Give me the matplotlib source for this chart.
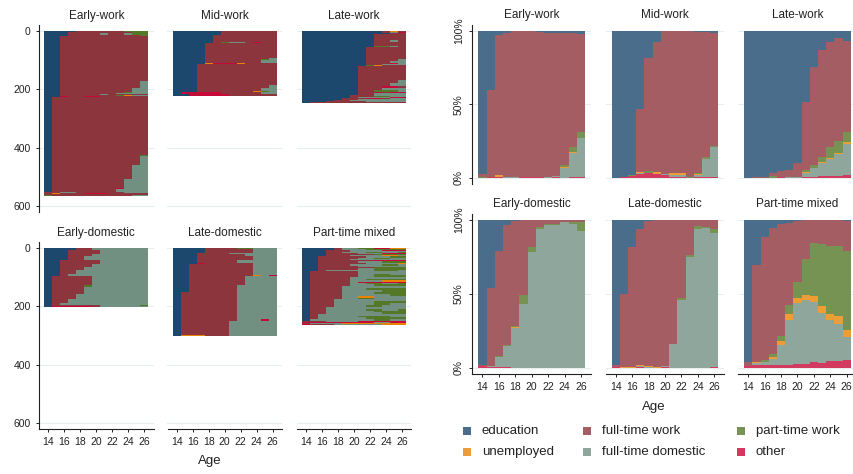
"""
Sequence index plots (left) and state distribution plots (right)
for six life-course clusters, ages 14-26.
"""

import numpy as np
import matplotlib
matplotlib.use("Agg")
import matplotlib.pyplot as plt
from matplotlib.colors import ListedColormap, BoundaryNorm, to_rgb
from matplotlib.patches import Rectangle

plt.rcParams["font.family"] = ["Liberation Sans", "DejaVu Sans"]

W_PX, H_PX = 854, 474

AGES = list(range(14, 27))
AGE_TICKS = [14, 16, 18, 20, 22, 24, 26]
STATES = ["education", "full-time work", "part-time work",
          "unemployed", "full-time domestic", "other"]
CODES = "EWPUDO"
COLORS = ["#1d486e", "#8c353c", "#557828", "#e88304", "#729082", "#c70938"]
CLUSTERS = ["Early-work", "Mid-work", "Late-work",
            "Early-domestic", "Late-domestic", "Part-time mixed"]

# --- sequence blocks (count, states at ages 14..26), top row first ---------
EARLY_WORK_SEQ = [
    (3, "EEEEWWWWWWPPP"), (5, "EEEWWWWWWWWPP"), (4, "EEEWWWWDWWDPP"),
    (4, "EEEWWWWWWWWWP"),
    (155, "EEWWWWWWWWWWW"), (23, "EEWWWWWWWWWWD"), (15, "EEWWWWWWWWWDD"),
    (3, "EEWWWWWWWWPDD"), (5, "EEWWWWWWWDDDD"), (2, "EEWWWWWDWWWWW"),
    (3, "EEWWWWWWWPUDD"), (4, "EEOWWOOWWWWWW"),
    (200, "EWWWWWWWWWWWW"), (2, "EWWWWWWWWWWWP"), (30, "EWWWWWWWWWWWD"),
    (3, "EWWWWWWWWWWPD"), (46, "EWWWWWWWWWWDD"), (2, "EWWWWWWWWWWOD"),
    (30, "EWWWWWWWWWDDD"), (4, "EWWWWWWWWODDD"), (8, "EWWWWWWWWDDDD"),
    (2, "EWWWWWWWPWWDD"),
    (4, "WWDDWWWWWWDDD"), (3, "WUWWWOOOWWWWW"), (3, "WWWWWWWWWWWWW"),
    (2, "PWWWWWWWWWWDD"),
]
MID_WORK_SEQ = [
    (14, "EEEEEEWWWWWWW"), (1, "EEEEEWWDWWWWW"), (24, "EEEEEWWWWWWWW"),
    (2, "EEEEEWPDDWOWW"),
    (50, "EEEEWWWWWWWWW"), (5, "EEEEWWWWWWWWD"), (3, "EEEEWWWWWWWPD"),
    (10, "EEEEWWWWWWWDD"), (3, "EEEEUOOOUWWWW"), (2, "EEEEWOOOOWWWW"),
    (72, "EEEWWWWWWWWWW"), (10, "EEEWWWWWWWWWD"), (8, "EEEWWWWWWWWDD"),
    (3, "EEEWWWWWUUWDD"), (3, "EEEWWWWWWWUPD"), (6, "EOOOOOWWWWWDD"),
    (6, "EEOOOOOWWWWWW"),
]
LATE_WORK_SEQ = [
    (3, "EEEEEEEEEEWUW"), (3, "EEEEEEEEEEWDO"), (4, "EEEEEEEEEEEWW"),
    (20, "EEEEEEEEEWWWW"), (2, "EEEEEEEEEUWWW"), (5, "EEEEEEEEEWWDW"),
    (15, "EEEEEEEEEWWWW"), (3, "EEEEEEEEEPPDW"),
    (40, "EEEEEEEEWWWWW"), (8, "EEEEEEEEWWWWD"), (6, "EEEEEEEEWWWDD"),
    (4, "EEEEEEEEWWWOD"), (4, "EEEEEEEEWWDDD"), (3, "EEEEEEEEPUWWW"),
    (49, "EEEEEEEWWWWWW"), (10, "EEEEEEEWWWWWD"), (10, "EEEEEEEWWWWDD"),
    (6, "EEEEEEEWWWOOW"), (8, "EEEEEEEWWWDDD"), (6, "EEEEEEEWWPPPD"),
    (4, "EEEEEEEWWOWOO"), (6, "EEEEEEEWWDDDD"),
    (4, "EEEEEEWWWDDDD"), (3, "EEEEEEWWWPPDD"), (3, "EEEEEEWDDDDOO"),
    (3, "EEEEEWWWOOWDD"), (3, "EEEEEWWDDDDDD"), (3, "EEEEWWWWPDDPP"),
    (3, "EEEEWWDDDDDDD"), (2, "EEEWWWWWDDDDD"), (2, "EEEWWOWWWWWDD"),
    (3, "EWWWWWWWWWWWW"),
]
EARLY_DOM_SEQ = [
    (6, "EEEEWWDDDDDDD"), (2, "EEEEWWWDDDDDD"), (12, "EEEWWWWDDDDDD"),
    (9, "EEEWWWDDDDDDD"), (11, "EEEWWDDDDDDDD"),
    (14, "EEWWWWWDDDDDD"), (11, "EEWWWWDDDDDDD"), (11, "EEWWWDDDDDDDD"),
    (14, "EEWWDDDDDDDDD"), (5, "EEWDDDDDDDDDD"),
    (32, "EWWWWWDDDDDDD"), (8, "EWWWWPDDDDDDD"), (23, "EWWWWDDDDDDDD"),
    (17, "EWWWDDDDDDDDD"), (15, "EWWDDDDDDDDDD"), (6, "EWDDDDDDDDDDD"),
    (3, "EWWWWWWDDDDDP"), (2, "EOOOOOWDDDDDD"), (2, "OOOOWWDDDDDDD"),
]
LATE_DOM_SEQ = [
    (3, "EEEEWWWWPPDDD"), (2, "EEEEUWWWWWDDD"), (11, "EEEEWWWWWWDDD"),
    (3, "EEEWWWWDDDDDD"), (10, "EEEWWWWWWDDDD"), (12, "EEEWWWWWWWDDD"),
    (12, "EEEWWWWWDDDDD"), (3, "EEEOWWWWWWDDD"),
    (38, "EEWWWWWWWWDDD"), (2, "EEWWWWWWWWUDO"), (30, "EEWWWWWWWDDDD"),
    (24, "EEWWWWWWDDDDD"),
    (2, "EWWDDUOWDDDDD"), (93, "EWWWWWWWDDDDD"), (4, "EWWWWWWWDDDOD"),
    (48, "EWWWWWWDDDDDD"), (3, "EUUUWWWDDDDDD"), (2, "EWWWDPWDDDDDD"),
]
PT_MIXED_SEQ = [
    (2, "EEEEWDDPPOOUU"), (2, "EEEEWWDDUPPOO"), (3, "EEEEWDDDPPPPP"),
    (3, "EEEWWWDDDDOOO"), (3, "EEEWWWDDDDDDD"), (3, "EEEWWDDDPPDDP"),
    (4, "EEEWWWWDDDOOO"), (3, "EEEWWWWWWPPPP"), (3, "EEEWWWDDDDUUD"),
    (2, "EEEWPDDDDDDDD"),
    (6, "EEWWWWWWDDDPP"), (4, "EEWWWWWDDPPDD"), (4, "EEWWWWDDDDDDD"),
    (4, "EEWWWWWWWOOOO"), (5, "EEWWWWWDDDPPP"), (5, "EEWWWWWWDDDDU"),
    (5, "EEWWWWDDDDPPD"), (4, "EEWWWWWDDDDDD"), (5, "EEWWWWWWWPPPP"),
    (5, "EEWWWWWDDPPPP"), (5, "EEWDDDDDDPPPD"),
    (8, "EWWWWWWDDDDDD"), (6, "EWWWWWWDDPPDD"), (6, "EWWWWWWDDPPPP"),
    (5, "EWWWWWDDDDDDD"), (5, "EWWWWWDDPPPPP"), (5, "EWWWWWDDDDUUU"),
    (5, "EWWWWWDOOOOOO"), (5, "EWWWWWDDPPDDP"), (4, "EWWWWWDDDPPPP"),
    (8, "EWWWWDDDDDDDD"), (8, "EWWWWDDDPPPPP"), (7, "EWWWWDDDDDPPP"),
    (7, "EWWWWDDDDPPPP"), (6, "EWWWWDDDDDDPP"), (5, "EWWWWDDUUDDDD"),
    (5, "EWWWWDDPPDDDD"),
    (7, "EWWWDDDDDDDDD"), (7, "EWWWDDDDDPPPP"), (6, "EWWWDDDDDPPDD"),
    (6, "EWWWDDDDPPDDD"), (2, "EWWWUUDDDDDDD"),
    (6, "EWWDDDDDDDDDD"), (6, "EWWDDDDDPPDDP"), (6, "EWWDDDDDDPPPP"),
    (5, "EWWDDDDDDDPPP"),
    (6, "EWDDDDDDDDDDD"), (6, "EWDDDDDPPPPDD"), (5, "EWDDDDDDPPPPP"),
    (7, "EDDDDDDDDPPDD"),
    (4, "WWWDDDDOOOOOO"), (4, "OOOOOOOOODDOO"), (3, "WDDDDUUUUUUUU"),
    (4, "OWWWDDDDDDUUU"),
]

# --- state shares in % by age (rows in STATES order) -----------------------
EARLY_WORK_PCT = [
    [97.6, 40, 3, 1.5, 0, 0, 0, 1, 1.5, 1.5, 1.5, 1.5, 2],
    [2, 59, 95.3, 98, 99.5, 99.5, 99, 98.3, 97.5, 97, 90, 77.5, 66.5],
    [0.4, 0, 0, 0, 0, 0, 0.3, 0.3, 0, 0, 1, 3.5, 4.5],
    [0, 0.5, 1, 0, 0, 0, 0, 0, 0, 0, 0.5, 0.5, 0],
    [0, 0, 0, 0.3, 0.5, 0, 0, 0.3, 1, 0.7, 7, 16.5, 26.5],
    [0, 0.5, 0.7, 0.2, 0, 0.5, 0.7, 0.4, 0, 0.8, 0, 0.5, 0.5],
]
MID_WORK_PCT = [
    [100, 99.5, 98.3, 53, 18.5, 7.2, 0, 0, 0, 0, 0.5, 1, 1.5],
    [0, 0, 0, 42.7, 77, 88.8, 97, 96.5, 96.6, 99.5, 96, 85, 76.5],
    [0, 0, 0.4, 0.3, 0.8, 0, 0.5, 0, 0, 0.5, 0.7, 1, 0.9],
    [0, 0, 0, 0.5, 0, 1, 0, 1.5, 1.4, 0, 0.5, 0, 0],
    [0, 0, 0, 0.7, 0.3, 0, 0.5, 1, 1, 0, 1.2, 12.5, 20.6],
    [0, 0.5, 1.3, 2.8, 3.4, 3, 2, 1, 1, 0, 1, 0.5, 0.5],
]
LATE_WORK_PCT = [
    [100, 99, 99, 96.4, 95, 94.3, 89.6, 48.3, 24.6, 12.6, 7.2, 5, 6.8],
    [0, 1, 1, 2.5, 4.3, 5, 10, 46.7, 66.4, 72.9, 72, 69.8, 62],
    [0, 0, 0, 1.1, 0, 0, 0, 1.4, 2.2, 3.8, 7.4, 8.1, 6.5],
    [0, 0, 0, 0, 0, 0, 0, 0.9, 0, 0.7, 0.5, 0.7, 1.4],
    [0, 0, 0, 0, 0, 0.5, 0.4, 2.9, 6.3, 8.8, 11.7, 14.9, 21],
    [0, 0, 0, 0, 0.7, 0.2, 0, 0.5, 0.5, 1.2, 1.2, 1.6, 2.3],
]
EARLY_DOM_PCT = [
    [97.8, 45.8, 20.9, 3.4, 0.4, 0, 0, 0, 0, 0, 0, 0, 0],
    [1.1, 52.6, 70.8, 80.9, 71, 51, 18, 5, 2.9, 2.5, 1.6, 1.6, 1.6],
    [0, 0.3, 0.7, 0.7, 0.7, 5.6, 3.4, 0.9, 0.2, 1.1, 0, 1.3, 5.8],
    [0, 0, 0.4, 0, 0.9, 0, 0, 0, 0, 0, 0, 0, 0],
    [0, 0.4, 6.3, 14.3, 27, 43.4, 78.6, 94.1, 96.9, 96.4, 98.4, 97.1, 92.6],
    [1.1, 0.9, 0.9, 0.7, 0, 0, 0, 0, 0, 0, 0, 0, 0],
]
LATE_DOM_PCT = [
    [97.8, 50, 18.4, 5.8, 0.4, 0, 0, 0, 0, 0, 0, 0, 0],
    [1.6, 49.4, 80.9, 92, 98, 99.4, 99, 83.6, 52.8, 23.4, 3.8, 4.5, 6.3],
    [0, 0, 0, 0.4, 0, 0, 0, 0, 1.1, 1.3, 2, 0.7, 2.2],
    [0, 0.6, 0.7, 0.4, 0.7, 0.6, 0, 0, 0, 0, 0, 0, 0],
    [0, 0, 0, 0.7, 0.9, 0, 0.7, 16.4, 46.1, 75.3, 94.2, 94.8, 90.6],
    [0.6, 0, 0, 0.7, 0, 0, 0.3, 0, 0, 0, 0, 0, 0.9],
]
PT_MIXED_PCT = [
    [96, 30.3, 11.7, 5.6, 2.9, 2, 0.9, 0.2, 0, 0, 0, 0, 0.7],
    [2.9, 65.9, 82.7, 84.7, 75.3, 55.1, 40.9, 26.3, 15.5, 16.2, 17.5, 17.5, 20.2],
    [0, 0, 1.3, 2, 3.8, 6.1, 10.8, 24.3, 35.7, 41.8, 45.8, 47.2, 53.7],
    [0, 0.7, 0, 1.3, 2.7, 4, 3.6, 3.4, 4, 4.9, 4, 5.4, 4.3],
    [0, 0.9, 2, 4, 13, 30.3, 40.9, 43.1, 40.4, 33.7, 27.6, 24.9, 15.9],
    [1.1, 2.2, 2.3, 2.2, 2.2, 2.2, 2.9, 2.9, 4.3, 3.4, 4.9, 4.9, 5.2],
]

SEQS = [EARLY_WORK_SEQ, MID_WORK_SEQ, LATE_WORK_SEQ,
        EARLY_DOM_SEQ, LATE_DOM_SEQ, PT_MIXED_SEQ]
PCTS = [EARLY_WORK_PCT, MID_WORK_PCT, LATE_WORK_PCT,
        EARLY_DOM_PCT, LATE_DOM_PCT, PT_MIXED_PCT]

TEXT = "#222222"
GRID = "#e8eded"


def px_axes(fig, x0, y0, x1, y1):
    """Axes from pixel box (top-left origin)."""
    return fig.add_axes([x0 / W_PX, 1 - y1 / H_PX,
                         (x1 - x0) / W_PX, (y1 - y0) / H_PX])


def light(c, a=0.8):
    r = np.array(to_rgb(c))
    return tuple(a * r + (1 - a))


def style_axes(ax, show_y, show_x):
    for s in ax.spines.values():
        s.set_visible(False)
    ax.grid(axis="y", color=GRID, lw=0.8)
    ax.set_axisbelow(True)
    ax.tick_params(colors=TEXT, labelsize=7.5, length=2.5, width=0.7)
    if show_y:
        ax.spines["left"].set_visible(True)
        ax.spines["left"].set_color(TEXT)
        ax.spines["left"].set_linewidth(0.8)
    else:
        ax.tick_params(axis="y", length=0, labelleft=False)
    if show_x:
        ax.spines["bottom"].set_visible(True)
        ax.spines["bottom"].set_color(TEXT)
        ax.spines["bottom"].set_linewidth(0.8)
        ax.set_xticks(AGE_TICKS)
    else:
        ax.set_xticks([])


def main():
    fig = plt.figure(figsize=(W_PX / 100, H_PX / 100), dpi=100)
    cmap = ListedColormap(COLORS)
    norm = BoundaryNorm(np.arange(-0.5, len(COLORS)), cmap.N)
    age_edges = np.arange(13.5, 27.0, 1.0)

    # left: sequence index plots
    left_x = [39.1, 167.5, 296.8]
    left_y = [(25, 212), (242, 429)]
    for i, (name, blocks) in enumerate(zip(CLUSTERS, SEQS)):
        r, c = divmod(i, 3)
        ax = px_axes(fig, left_x[c], left_y[r][0], left_x[c] + 114.4, left_y[r][1])
        mat = np.array([[CODES.index(ch) for ch in seq]
                        for n, seq in blocks for _ in range(n)])
        ax.pcolormesh(age_edges, np.arange(len(mat) + 1), mat, cmap=cmap,
                      norm=norm, edgecolors="none", antialiased=False,
                      rasterized=True)
        ax.set_xlim(12.85, 27.15)
        ax.set_ylim(620.5, -20.6)
        ax.set_yticks([0, 200, 400, 600])
        style_axes(ax, c == 0, r == 1)
        ax.set_title(name, fontsize=8.5, color=TEXT, pad=4)

    # right: state distribution plots
    right_x = [472.4, 605.7, 738.2]
    right_y = [(25, 184), (214, 374)]
    for i, (name, pct) in enumerate(zip(CLUSTERS, PCTS)):
        r, c = divmod(i, 3)
        ax = px_axes(fig, right_x[c], right_y[r][0], right_x[c] + 118.6, right_y[r][1])
        shares = np.array(pct, dtype=float)
        shares = shares / shares.sum(axis=0) * 100
        bottom = np.zeros(len(AGES))
        for k in reversed(range(len(STATES))):
            ax.bar(AGES, shares[k], width=1.0, bottom=bottom,
                   color=light(COLORS[k]), linewidth=0, antialiased=False)
            bottom += shares[k]
        ax.set_xlim(12.77, 27.23)
        ax.set_ylim(-4.1, 104.1)
        ax.set_yticks([0, 50, 100])
        ax.set_yticklabels(["0%", "50%", "100%"])
        style_axes(ax, c == 0, r == 1)
        for lab in ax.get_yticklabels():
            lab.set_rotation(90)
            lab.set_va("center")
            lab.set_ha("right")
        ax.set_title(name, fontsize=8.5, color=TEXT, pad=5)

    fig.text(210 / W_PX, 1 - 461 / H_PX, "Age", ha="center", va="center",
             fontsize=9.5, color=TEXT)
    fig.text(654 / W_PX, 1 - 407 / H_PX, "Age", ha="center", va="center",
             fontsize=9.5, color=TEXT)

    # legend, three columns by two rows
    lax = fig.add_axes([0, 0, 1, 1])
    lax.set_xlim(0, W_PX)
    lax.set_ylim(H_PX, 0)
    lax.axis("off")
    sq_x = [462.7, 582.7, 736.7]
    tx_x = [481.7, 602.3, 756.0]
    row_y = [431, 452]
    for k, state in enumerate(STATES):
        rr, cc = divmod(k, 3)
        lax.add_patch(Rectangle((sq_x[cc], row_y[rr] - 4), 8, 8,
                                facecolor=light(COLORS[k]), edgecolor="none"))
        lax.text(tx_x[cc], row_y[rr], state, ha="left", va="center",
                 fontsize=9.5, color=TEXT)

    fig.savefig("out.png", dpi=100)
    plt.close(fig)


if __name__ == "__main__":
    main()
